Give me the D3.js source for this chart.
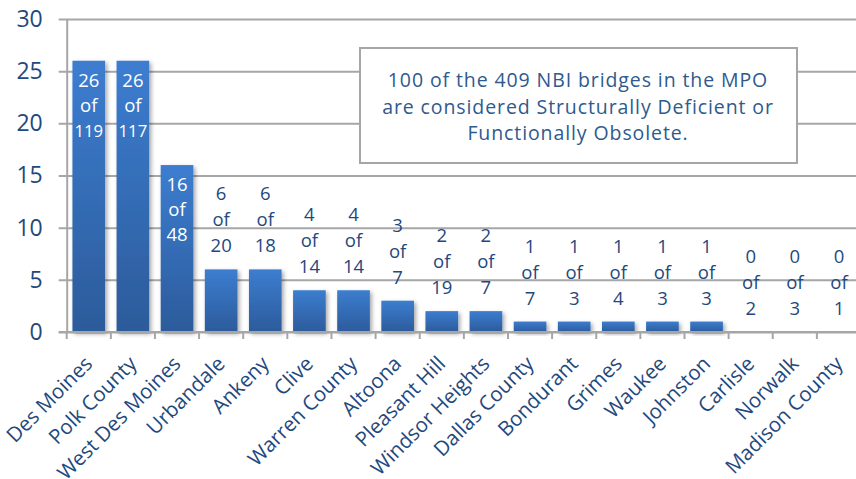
<!DOCTYPE html>
<html>
<head>
<meta charset="utf-8">
<script src="https://cdn.jsdelivr.net/npm/d3@7"></script>
<style>
  body { margin: 0; background: #fff; }
  svg { display: block; }
</style>
</head>
<body>
<svg id="chart" width="856" height="479"></svg>
<script>
// data
const places = ["Des Moines", "Polk County", "West Des Moines", "Urbandale", "Ankeny", "Clive",
  "Warren County", "Altoona", "Pleasant Hill", "Windsor Heights", "Dallas County", "Bondurant",
  "Grimes", "Waukee", "Johnston", "Carlisle", "Norwalk", "Madison County"]
const deficient = [26, 26, 16, 6, 6, 4, 4, 3, 2, 2, 1, 1, 1, 1, 1, 0, 0, 0]
const totals = [119, 117, 48, 20, 18, 14, 14, 7, 19, 7, 7, 3, 4, 3, 3, 2, 3, 1]
const yTicks = [0, 5, 10, 15, 20, 25, 30]
const noteLines = ["100 of the 409 NBI bridges in the MPO",
  "are considered Structurally Deficient or", "Functionally Obsolete."]

const TEXT = "#1f497d"
const GRID = "#a6a6a6"
const FONT = "'Open Sans', sans-serif"

let svg = d3.select("#chart")
let plotLeft = 66.7, plotTop = 19, plotBottom = 332, plotRight = 861

let x = d3.scaleBand()
  .domain(places)
  .range([plotLeft, plotRight])
  .paddingInner(0.26)
  .paddingOuter(0.13)

let band = (plotRight - plotLeft) / places.length

let y = d3.scaleLinear()
  .domain([0, 30])
  .range([plotBottom, plotTop])

let defs = svg.append("defs")
let grad = defs.append("linearGradient")
  .attr("id", "barGrad")
  .attr("x1", 0).attr("y1", 0).attr("x2", 0).attr("y2", 1)
grad.append("stop").attr("offset", "0%").attr("stop-color", "#3c7dd0")
grad.append("stop").attr("offset", "100%").attr("stop-color", "#2c5b9b")

let shadow = defs.append("filter")
  .attr("id", "shadow")
  .attr("x", "-20%").attr("y", "-20%").attr("width", "150%").attr("height", "150%")
shadow.append("feDropShadow")
  .attr("dx", 2).attr("dy", 2)
  .attr("stdDeviation", 2)
  .attr("flood-color", "#000")
  .attr("flood-opacity", 0.35)

// gridlines + y axis
let yAxis = d3.axisLeft(y)
  .tickValues(yTicks)
  .tickSize(-(plotRight - plotLeft))
  .tickSizeOuter(0)
  .tickPadding(16)

let gy = svg.append("g")
  .attr("transform", `translate(${plotLeft},0)`)
  .call(yAxis)

gy.select(".domain").attr("stroke", GRID).attr("stroke-width", 2)
gy.selectAll(".tick line")
  .attr("x1", -8)
  .attr("stroke", GRID)
  .attr("stroke-width", 2)
gy.selectAll(".tick text")
  .attr("x", -24)
  .style("font-family", FONT)
  .style("font-size", "23px")
  .attr("fill", TEXT)

// bars
svg.append("g")
  .selectAll("rect")
  .data(places)
  .join("rect")
  .attr("x", d => x(d))
  .attr("width", x.bandwidth())
  .attr("y", (d, i) => y(deficient[i]))
  .attr("height", (d, i) => plotBottom - y(deficient[i]))
  .attr("fill", "url(#barGrad)")
  .attr("filter", "url(#shadow)")

// x axis with ticks between categories
let gx = svg.append("g")
svg.append("line")
  .attr("x1", plotLeft - 8).attr("x2", plotRight)
  .attr("y1", plotBottom).attr("y2", plotBottom)
  .attr("stroke", GRID).attr("stroke-width", 2)

gx.selectAll("line")
  .data(d3.range(places.length + 1))
  .join("line")
  .attr("x1", i => plotLeft + i * band)
  .attr("x2", i => plotLeft + i * band)
  .attr("y1", plotBottom)
  .attr("y2", plotBottom + 7)
  .attr("stroke", GRID)
  .attr("stroke-width", 2)

gx.selectAll("text")
  .data(places)
  .join("text")
  .attr("transform", d => `translate(${x(d) + x.bandwidth() / 2 + 5},${plotBottom + 33}) rotate(-45)`)
  .attr("text-anchor", "end")
  .style("font-family", FONT)
  .style("font-size", "20.5px")
  .attr("fill", TEXT)
  .text(d => d)

// data labels
let labels = svg.append("g")
places.forEach((p, i) => {
  let cx = x(p) + x.bandwidth() / 2
  let v = deficient[i]
  let lines = [String(v), "of", String(totals[i])]
  let inside = v >= 10
  let g = labels.append("g")
  lines.forEach((t, k) => {
    let ty = inside ? y(v) + 26 + k * 25 : y(v) - 17 - (2 - k) * 26
    let txt = g.append("text")
      .attr("x", cx)
      .attr("y", ty)
      .attr("text-anchor", "middle")
      .style("font-family", FONT)
      .style("font-size", "18.5px")
      .attr("fill", inside ? "#fff" : TEXT)
      .text(t)
    if (inside) {
      let w = txt.node().getComputedTextLength()
      let room = x.bandwidth() - 4
      if (w > room) txt.style("font-size", (18.5 * room / w).toFixed(1) + "px")
    }
  })
})

// note box
let box = svg.append("g")
box.append("rect")
  .attr("x", 360).attr("y", 48)
  .attr("width", 437).attr("height", 115)
  .attr("fill", "#fff")
  .attr("stroke", GRID)
  .attr("stroke-width", 2)

box.selectAll("text")
  .data(noteLines)
  .join("text")
  .attr("x", 578)
  .attr("y", (d, i) => 87 + i * 26.5)
  .attr("text-anchor", "middle")
  .style("font-family", FONT)
  .style("font-size", "19.5px")
  .style("letter-spacing", "0.9px")
  .attr("fill", "#2e5a8e")
  .text(d => d)
</script>
</body>
</html>
